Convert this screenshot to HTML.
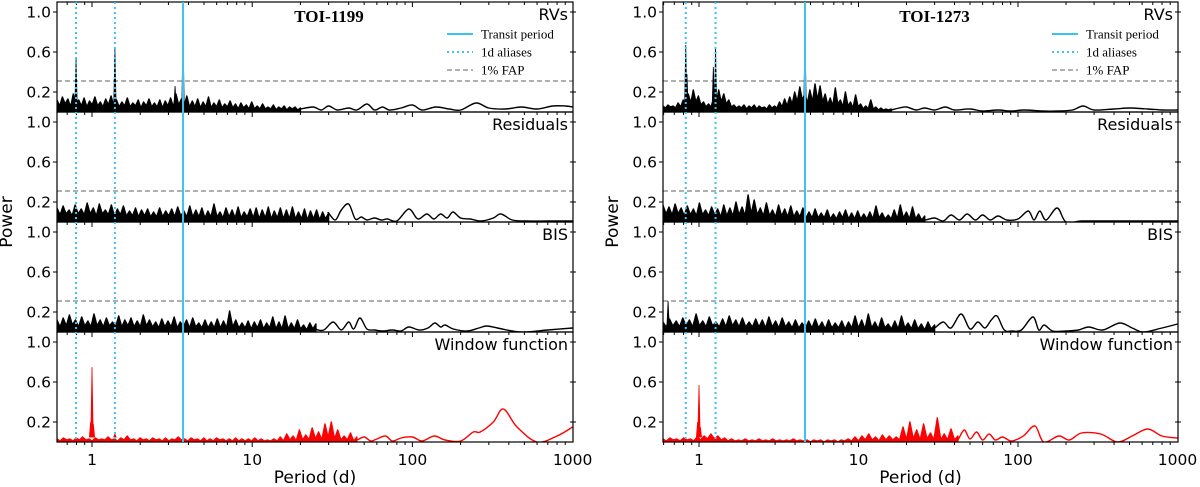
<!DOCTYPE html>
<html><head><meta charset="utf-8"><style>
html,body{margin:0;padding:0;background:#fff;}
svg{display:block;}
text{font-family:"DejaVu Sans","Liberation Sans",sans-serif;}
.serif{font-family:"Liberation Serif","DejaVu Serif",serif;}
</style></head><body>
<svg id="chart" width="1200" height="487" viewBox="0 0 1200 487" xmlns="http://www.w3.org/2000/svg"></svg>
<script>
// ---------- data ----------
const panelNames = ["RVs","Residuals","BIS","Window function"];
const yTicks = [0.2,0.6,1.0];
const xTicks = [1,10,100,1000];
const xTickLabels = ["1","10","100","1000"];
const fapLevel = 0.31;
const targets = ["TOI-1199","TOI-1273"];
const transitPeriods = [3.70, 4.62];
const aliasPeriodsL = [0.795, 1.39];
const aliasPeriodsR = [0.826, 1.27];

const denseRangeL_rv = [0.605, 20];
const denseL_rv = [0.12,0.06,0.15,0.08,0.13,0.05,0.18,0.07,0.12,0.06,0.14,0.05,0.11,0.07,0.15,0.06,0.10,0.05,0.13,0.07,0.16,0.06,0.12,0.05,0.10,0.06,0.14,0.05,0.09,0.06,0.12,0.04,0.10,0.06,0.13,0.05,0.09,0.05,0.12,0.04,0.11,0.06,0.14,0.05,0.18,0.07,0.13,0.06,0.16,0.05,0.11,0.05,0.13,0.04,0.10,0.05,0.15,0.04,0.09,0.05,0.12,0.04,0.08,0.05,0.11,0.04,0.08,0.03,0.09,0.04,0.07,0.03,0.10,0.03,0.06,0.03,0.08,0.03,0.05,0.03,0.07,0.02,0.05,0.03,0.06,0.02,0.05,0.03,0.05,0.02,0.04];
const smoothPerL_rv = [20,24,27,30,34,40,45,52,58,65,72,85,100,115,140,170,200,250,300,380,480,600,750,900,1000];
const smoothPowL_rv = [0.03,0.05,0.02,0.06,0.02,0.04,0.02,0.08,0.02,0.05,0.02,0.04,0.07,0.02,0.05,0.03,0.02,0.09,0.04,0.03,0.05,0.03,0.06,0.06,0.05];
const peakPerL_rv = [0.795,1.39,3.3,3.70];
const peakPowL_rv = [0.53,0.63,0.26,0.78];

const denseRangeL_res = [0.605, 30];
const denseL_res = [0.14,0.07,0.16,0.08,0.12,0.06,0.17,0.08,0.13,0.07,0.19,0.08,0.14,0.06,0.18,0.08,0.12,0.07,0.17,0.06,0.13,0.07,0.16,0.06,0.11,0.06,0.14,0.05,0.12,0.06,0.13,0.05,0.10,0.05,0.14,0.05,0.11,0.06,0.13,0.05,0.15,0.06,0.11,0.05,0.16,0.05,0.12,0.05,0.14,0.04,0.11,0.05,0.18,0.05,0.10,0.04,0.14,0.05,0.12,0.04,0.15,0.04,0.10,0.05,0.13,0.04,0.14,0.03,0.12,0.04,0.15,0.03,0.11,0.04,0.14,0.03,0.12,0.03,0.15,0.03,0.10,0.03,0.13,0.02,0.11,0.03,0.12,0.02,0.10,0.03,0.09];
const smoothPerL_res = [30,33,36,40,44,48,52,58,64,70,80,95,108,123,136,150,165,179,200,230,270,320,357,420,520,700,1000];
const smoothPowL_res = [0.09,0.02,0.12,0.18,0.03,0.05,0.02,0.04,0.02,0.03,0.01,0.13,0.03,0.08,0.03,0.08,0.04,0.10,0.04,0.03,0.01,0.04,0.08,0.02,0.01,0.01,0.01];

const denseRangeL_bis = [0.605, 25];
const denseL_bis = [0.12,0.05,0.14,0.06,0.17,0.07,0.12,0.05,0.15,0.06,0.11,0.05,0.18,0.06,0.12,0.05,0.14,0.06,0.10,0.05,0.16,0.05,0.12,0.06,0.14,0.05,0.11,0.05,0.17,0.06,0.12,0.05,0.10,0.04,0.13,0.05,0.11,0.05,0.15,0.04,0.10,0.05,0.12,0.04,0.14,0.05,0.09,0.04,0.12,0.04,0.10,0.04,0.13,0.04,0.11,0.04,0.21,0.05,0.12,0.04,0.09,0.04,0.11,0.03,0.10,0.04,0.12,0.03,0.09,0.04,0.15,0.03,0.10,0.03,0.16,0.03,0.09,0.03,0.12,0.03,0.07,0.02,0.09,0.03,0.08];
const smoothPerL_bis = [25,28,32,36,40,43,47,52,58,65,75,85,95,110,125,138,150,160,180,220,260,290,340,420,500,700,1000];
const smoothPowL_bis = [0.03,0.02,0.10,0.02,0.10,0.03,0.14,0.03,0.02,0.01,0.02,0.01,0.05,0.02,0.04,0.09,0.05,0.07,0.03,0.01,0.04,0.06,0.04,0.01,0.0,0.02,0.04];

const denseRangeL_win = [0.605, 45];
const denseL_win = [0.03,0.01,0.04,0.02,0.03,0.01,0.04,0.02,0.05,0.02,0.03,0.01,0.04,0.02,0.03,0.02,0.05,0.02,0.03,0.01,0.04,0.02,0.06,0.02,0.03,0.01,0.04,0.02,0.03,0.01,0.04,0.02,0.03,0.01,0.04,0.01,0.03,0.02,0.05,0.02,0.03,0.01,0.04,0.02,0.03,0.01,0.04,0.01,0.03,0.01,0.04,0.02,0.03,0.01,0.03,0.01,0.04,0.01,0.03,0.01,0.03,0.01,0.04,0.01,0.03,0.01,0.02,0.01,0.03,0.01,0.05,0.01,0.08,0.02,0.06,0.01,0.12,0.02,0.07,0.02,0.14,0.03,0.10,0.02,0.18,0.04,0.20,0.03,0.12,0.02,0.06,0.02,0.09,0.01,0.05];
const smoothPerL_win = [45,50,55,60,68,75,85,100,115,137,160,200,240,265,320,370,450,600,800,1000];
const smoothPowL_win = [0.02,0.05,0.01,0.03,0.06,0.01,0.04,0.05,0.01,0.06,0.02,0.01,0.10,0.10,0.20,0.33,0.15,0.0,0.06,0.15];
const peakPerL_win = [0.98,1.0,1.02,1.39];
const peakPowL_win = [0.20,0.75,0.18,0.08];

const denseRangeR_rv = [0.594, 16];
const denseR_rv = [0.06,0.04,0.07,0.05,0.06,0.04,0.09,0.05,0.12,0.07,0.18,0.09,0.22,0.10,0.16,0.07,0.10,0.05,0.08,0.05,0.14,0.08,0.22,0.10,0.18,0.08,0.12,0.05,0.07,0.04,0.06,0.04,0.07,0.03,0.06,0.04,0.07,0.03,0.06,0.04,0.05,0.03,0.07,0.04,0.06,0.04,0.10,0.05,0.13,0.06,0.15,0.08,0.20,0.10,0.25,0.12,0.18,0.09,0.22,0.10,0.28,0.12,0.26,0.10,0.18,0.07,0.14,0.06,0.24,0.08,0.12,0.05,0.20,0.06,0.10,0.04,0.17,0.05,0.08,0.03,0.06,0.03,0.12,0.03,0.05,0.02,0.04,0.02,0.03,0.02,0.03];
const smoothPerR_rv = [16,18,20,23,26,30,35,40,50,60,75,90,110,140,180,220,256,300,400,500,650,800,1000];
const smoothPowR_rv = [0.02,0.04,0.05,0.02,0.04,0.02,0.05,0.02,0.03,0.01,0.02,0.01,0.02,0.01,0.01,0.02,0.06,0.02,0.03,0.04,0.03,0.02,0.02];
const peakPerR_rv = [0.826,0.84,1.23,1.27,4.62];
const peakPowR_rv = [0.67,0.38,0.45,0.65,0.83];

const denseRangeR_res = [0.594, 26];
const denseR_res = [0.17,0.08,0.15,0.07,0.18,0.08,0.14,0.06,0.16,0.07,0.13,0.06,0.19,0.07,0.12,0.06,0.15,0.07,0.13,0.05,0.17,0.06,0.14,0.06,0.20,0.07,0.15,0.06,0.27,0.08,0.22,0.07,0.14,0.06,0.19,0.06,0.12,0.05,0.17,0.06,0.13,0.05,0.16,0.05,0.11,0.05,0.14,0.04,0.10,0.04,0.13,0.04,0.09,0.04,0.12,0.03,0.08,0.03,0.10,0.04,0.12,0.03,0.09,0.03,0.11,0.03,0.08,0.03,0.10,0.03,0.16,0.04,0.09,0.03,0.07,0.03,0.12,0.03,0.17,0.04,0.10,0.03,0.15,0.03,0.08,0.02,0.06];
const smoothPerR_res = [26,30,34,38,43,48,54,60,67,75,85,100,116,126,137,150,176,200,250,350,500,700,1000];
const smoothPowR_res = [0.02,0.04,0.01,0.07,0.02,0.08,0.02,0.07,0.02,0.06,0.02,0.03,0.11,0.02,0.11,0.02,0.14,0.0,0.01,0.01,0.01,0.01,0.01];

const denseRangeR_bis = [0.594, 30];
const denseR_bis = [0.10,0.05,0.13,0.06,0.11,0.05,0.14,0.06,0.12,0.05,0.18,0.06,0.11,0.05,0.15,0.06,0.10,0.05,0.13,0.05,0.16,0.06,0.12,0.05,0.14,0.05,0.10,0.05,0.13,0.05,0.12,0.04,0.15,0.05,0.11,0.04,0.14,0.05,0.10,0.04,0.12,0.04,0.09,0.04,0.11,0.04,0.13,0.04,0.10,0.03,0.12,0.04,0.09,0.04,0.11,0.03,0.10,0.04,0.16,0.04,0.12,0.03,0.18,0.04,0.10,0.03,0.14,0.04,0.08,0.03,0.11,0.03,0.16,0.04,0.09,0.03,0.12,0.03,0.08,0.02,0.10,0.03,0.07];
const smoothPerR_bis = [30,34,38,44,50,56,62,68,74,82,92,105,124,135,146,165,200,240,278,340,435,520,610,800,1000];
const smoothPowR_bis = [0.04,0.10,0.04,0.18,0.03,0.10,0.04,0.12,0.16,0.02,0.01,0.02,0.15,0.02,0.07,0.01,0.01,0.02,0.05,0.02,0.09,0.04,0.0,0.04,0.08];
const peakPerR_bis = [0.64];
const peakPowR_bis = [0.31];

const denseRangeR_win = [0.594, 42];
const denseR_win = [0.03,0.01,0.04,0.02,0.03,0.01,0.04,0.02,0.03,0.01,0.05,0.02,0.06,0.03,0.08,0.03,0.06,0.02,0.04,0.01,0.03,0.01,0.02,0.01,0.03,0.01,0.02,0.01,0.03,0.01,0.02,0.01,0.03,0.01,0.02,0.01,0.02,0.01,0.03,0.01,0.02,0.01,0.02,0.0,0.02,0.01,0.02,0.0,0.02,0.01,0.02,0.0,0.02,0.01,0.03,0.01,0.05,0.01,0.06,0.02,0.08,0.02,0.05,0.01,0.07,0.02,0.06,0.02,0.05,0.02,0.15,0.02,0.20,0.03,0.12,0.02,0.18,0.03,0.09,0.02,0.24,0.02,0.08,0.02,0.13,0.02,0.06];
const smoothPerR_win = [42,46,50,55,60,66,72,80,90,100,110,128,145,180,210,250,330,420,520,650,800,1000];
const smoothPowR_win = [0.02,0.12,0.03,0.10,0.02,0.08,0.02,0.05,0.01,0.03,0.07,0.16,0.0,0.06,0.02,0.09,0.08,0.0,0.06,0.13,0.06,0.04];
const peakPerR_win = [0.98,1.0,1.02];
const peakPowR_win = [0.20,0.57,0.15];

// ---------- geometry ----------
const NS = "http://www.w3.org/2000/svg";
const svg = document.getElementById("chart");
const sides = [
  {x0:57, x1:573, one:92, dec:160.2, tgt:0, alias:aliasPeriodsL},
  {x0:663, x1:1178, one:699, dec:159.5, tgt:1, alias:aliasPeriodsR}
];
const panelTop = k => 2 + 110*k;
const PH = 110;
function xs(side, p){ return side.one + side.dec*Math.log10(p); }
function ys(k, v){ return panelTop(k) + PH - v*100; }
function mk(tag, attrs, parent){ const e=document.createElementNS(NS,tag); for(const a in attrs) e.setAttribute(a,attrs[a]); (parent||svg).appendChild(e); return e; }
function smoothPath(P){
  let d="M"+P[0][0].toFixed(1)+","+P[0][1].toFixed(1);
  for(let i=0;i<P.length-1;i++){
    const p0=P[Math.max(0,i-1)],p1=P[i],p2=P[i+1],p3=P[Math.min(P.length-1,i+2)];
    const c1=[p1[0]+(p2[0]-p0[0])/6,p1[1]+(p2[1]-p0[1])/6];
    const c2=[p2[0]-(p3[0]-p1[0])/6,p2[1]-(p3[1]-p1[1])/6];
    d+=` C${c1[0].toFixed(1)},${c1[1].toFixed(1)} ${c2[0].toFixed(1)},${c2[1].toFixed(1)} ${p2[0].toFixed(1)},${p2[1].toFixed(1)}`;
  }
  return d;
}

const seriesL = [
  [denseRangeL_rv,denseL_rv,smoothPerL_rv,smoothPowL_rv,peakPerL_rv,peakPowL_rv],
  [denseRangeL_res,denseL_res,smoothPerL_res,smoothPowL_res,[],[]],
  [denseRangeL_bis,denseL_bis,smoothPerL_bis,smoothPowL_bis,[],[]],
  [denseRangeL_win,denseL_win,smoothPerL_win,smoothPowL_win,peakPerL_win,peakPowL_win]
];
const seriesR = [
  [denseRangeR_rv,denseR_rv,smoothPerR_rv,smoothPowR_rv,peakPerR_rv,peakPowR_rv],
  [denseRangeR_res,denseR_res,smoothPerR_res,smoothPowR_res,[],[]],
  [denseRangeR_bis,denseR_bis,smoothPerR_bis,smoothPowR_bis,peakPerR_bis,peakPowR_bis],
  [denseRangeR_win,denseR_win,smoothPerR_win,smoothPowR_win,peakPerR_win,peakPowR_win]
];

const defs = mk("defs",{});
sides.forEach((side,si)=>{
  const data = si===0?seriesL:seriesR;
  const g = mk("g",{});
  
  
  for(let k=0;k<4;k++){
    const cid="clip"+si+"_"+k;
    const cp=mk("clipPath",{id:cid},defs);
    mk("rect",{x:side.x0,y:panelTop(k),width:side.x1-side.x0,height:PH},cp);
    const pg = mk("g",{"clip-path":"url(#"+cid+")"},g);
    
    
    const color = k===3?"#ff0000":"#000";
    if(k<3){
      const f=mk("line",{x1:side.x0,x2:side.x1,y1:ys(k,fapLevel),y2:ys(k,fapLevel),stroke:"#808080","stroke-width":1.2,"stroke-dasharray":"5,3"},pg);
      
      
    }
    const [rng,dense,sp,sv,pp,pv] = data[k];
    const n = dense.length;
    const la=Math.log10(rng[0]), lb=Math.log10(rng[1]);
    let pts=[];
    dense.forEach((v,i)=>{ const p=Math.pow(10, la+(lb-la)*i/(n-1)); pts.push([xs(side,p),ys(k,v)]); });
    const poly = pts.map(q=>q[0].toFixed(1)+","+q[1].toFixed(1)).join(" ")+" "+pts[n-1][0].toFixed(1)+","+ys(k,0)+" "+pts[0][0].toFixed(1)+","+ys(k,0);
    const fa=mk("polygon",{points:poly,fill:color,stroke:color,"stroke-width":1.4,"stroke-linejoin":"round"},pg);
    
    
    const spts=[pts[n-1]].concat(sp.map((p,i)=>[xs(side,p),ys(k,sv[i])]));
    const ln=mk("path",{d:smoothPath(spts),fill:"none",stroke:color,"stroke-width":1.4,"stroke-linejoin":"round"},pg);
    
    
    pp.forEach((p,i)=>{
      const x=xs(side,p);
      const s=mk("path",{d:`M${x-1.2},${ys(k,0.05)} L${x},${ys(k,pv[i])} L${x+1.2},${ys(k,0.05)} Z`,fill:color,stroke:color,"stroke-width":0.8},pg);
      
      
    });
    const fr=mk("rect",{x:side.x0,y:panelTop(k),width:side.x1-side.x0,height:PH,fill:"none",stroke:"#000","stroke-width":1.2},g);
    
    
    yTicks.forEach(t=>{
      const y=ys(k,t);
      mk("line",{x1:side.x0-4,x2:side.x0,y1:y,y2:y,stroke:"#000","stroke-width":1},g);
      mk("line",{x1:side.x1-3,x2:side.x1+3,y1:y,y2:y,stroke:"#000","stroke-width":1},g);
      const tl=mk("text",{x:side.x0-6,y:y+5.5,"text-anchor":"end","font-size":15.5,fill:"#000"},g);
      tl.textContent=t.toFixed(1);
      
      
    });
    const lab=mk("text",{x:side.x1-5,y:panelTop(k)+18,"text-anchor":"end","font-size":16,fill:"#000"},g);
    lab.textContent=panelNames[k];
    
    
  }
  for(let d=0; d<4; d++){
    for(let m=1;m<10;m++){
      const p=Math.pow(10,d-1)*m; const x=xs(side,p);
      if(x<side.x0-0.5||x>side.x1+0.5) continue;
      const len=m===1?5:3;
      for(let k=0;k<4;k++){
        mk("line",{x1:x,x2:x,y1:panelTop(k),y2:panelTop(k)+len,stroke:"#000","stroke-width":1},g);
      }
      mk("line",{x1:x,x2:x,y1:442,y2:442+len,stroke:"#000","stroke-width":1},g);
    }
  }
  xTicks.forEach((t,i)=>{
    const tl=mk("text",{x:xs(side,t),y:465,"text-anchor":"middle","font-size":15.5,fill:"#000"},g);
    tl.textContent=xTickLabels[i];
    
    
  });
  const xl=mk("text",{x:(side.x0+side.x1)/2,y:483,"text-anchor":"middle","font-size":17,fill:"#000"},g);
  xl.textContent="Period (d)";
  
  
  const yl=mk("text",{x:0,y:0,transform:`translate(${side.x0-45},222) rotate(-90)`,"text-anchor":"middle","font-size":17,fill:"#000"},g);
  yl.textContent="Power";
  
  
  const tx=xs(side,transitPeriods[si]);
  const tr=mk("line",{x1:tx,x2:tx,y1:2,y2:442,stroke:"#3cc4f0","stroke-width":2},g);
  
  
  side.alias.forEach(p=>{
    const ax=xs(side,p);
    const al=mk("line",{x1:ax,x2:ax,y1:2,y2:442,stroke:"#3cc4f0","stroke-width":2,"stroke-dasharray":"2,3"},g);
    
    
  });
  const ti=mk("text",{x:(side.x0+side.x1)/2+14,y:22,"text-anchor":"middle","font-size":17,"font-weight":"bold",fill:"#000",class:"serif"},g);
  ti.textContent=targets[si];
  
  
  const lg=mk("g",{},g);
  
  
  const lx=side.x1-126;
  const ents=[["Transit period",""],["1d aliases","2,3"],["1% FAP","5,3"]];
  ents.forEach((e,i)=>{
    const y=34+18*i;
    const c=i===2?"#808080":"#3cc4f0";
    const sw=mk("line",{x1:lx,x2:lx+26,y1:y,y2:y,stroke:c,"stroke-width":i===2?1.2:2,"stroke-dasharray":e[1]||"none"},lg);
    
    
    const t=mk("text",{x:lx+34,y:y+4.5,"font-size":13,fill:"#000",class:"serif"},lg);
    t.textContent=e[0];
    
    
  });
});
</script>
</body></html>
